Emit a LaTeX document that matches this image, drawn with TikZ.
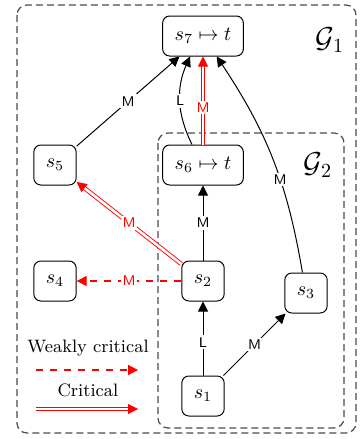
\documentclass[tikz,border=0pt]{standalone}
\usetikzlibrary{arrows.meta}
\begin{document}
\begin{tikzpicture}[x=0.5pt,y=-0.5pt,
  st/.style={draw, line width=0.5pt, rounded corners=3.5pt, minimum width=20pt, minimum height=20pt, inner xsep=6pt, fill=white, font=\normalsize},
  grp/.style={draw=black!70, dash pattern=on 3.5pt off 2pt, line width=0.6pt, rounded corners=5pt},
  lab/.style={font=\sffamily\scriptsize, fill=white, inner sep=1pt},
  arr/.style={-{Triangle[length=5pt,width=5pt]}, line width=0.5pt},
  crit/.style={draw=red, double=white, double distance=1.3pt, line width=0.45pt, -{Triangle[length=5pt,width=5pt,fill=red]}},
  weak/.style={draw=red, dash pattern=on 3.5pt off 3.5pt, line width=0.6pt, -{Triangle[length=5pt,width=5pt]}},
  rlab/.style={lab, text=red}
]
\useasboundingbox (0,0) rectangle (364,439);
% groups
\draw[grp] (17,5) rectangle (356,433);
\draw[grp] (158,133) rectangle (344,428);
\node at (330,40) {\Large$\mathcal{G}_1$};
\node at (318,165) {\Large$\mathcal{G}_2$};
% states
\node[st] (s7) at (203,36) {$s_7\mapsto t$};
\node[st] (s6) at (203,165) {$s_6\mapsto t$};
\node[st] (s5) at (55,165) {$s_5$};
\node[st] (s4) at (55,281) {$s_4$};
\node[st] (s2) at (203,281) {$s_2$};
\node[st] (s3) at (306,293) {$s_3$};
\node[st] (s1) at (203,396) {$s_1$};
% edges
\draw[arr] (s5) -- node[lab] {M} (s7);
\draw[arr] ([xshift=-5.5pt]s6.north) to[bend left=25] node[lab] {L} ([xshift=-6.5pt]s7.south);
\draw[crit] (s6) -- node[rlab, pos=0.42] {M} (s7);
\draw[arr] (s3) to[bend right=12] node[lab, pos=0.4] {M} (s7);
\draw[arr] (s2) -- node[lab] {M} (s6);
\draw[crit] (s2) -- node[rlab] {M} (s5);
\draw[weak] (s2) -- node[rlab] {M} (s4);
\draw[arr] (s1) -- node[lab, pos=0.45] {L} (s2);
\draw[arr] (s1) -- node[lab] {M} (s3);
% legend
\node[font=\small] (lw) at (88,348) {Weakly critical};
\node[font=\small] (lc) at (88,390) {Critical};
\coordinate (wa) at (36,370);
\coordinate (wb) at (138,370);
\coordinate (ca) at (36,409);
\coordinate (cb) at (138,409);
\draw[weak] (wa) -- (wb);
\draw[crit] (ca) -- (cb);
\end{tikzpicture}
\end{document}
